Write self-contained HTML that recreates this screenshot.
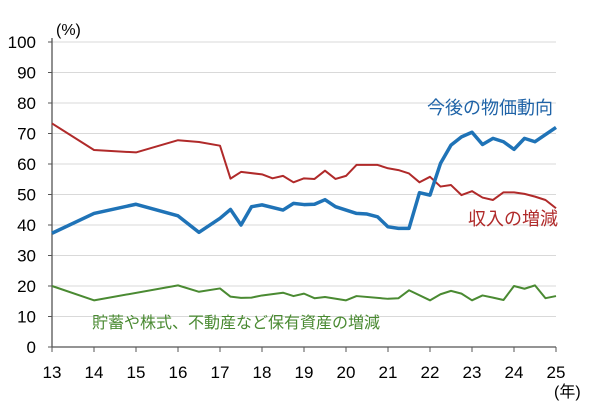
<!DOCTYPE html>
<html><head><meta charset="utf-8">
<style>
html,body{margin:0;padding:0;background:#fff;}
svg{display:block;font-family:"Liberation Sans","Noto Sans CJK JP",sans-serif;}
</style></head>
<body>
<svg id="chart" width="600" height="413" viewBox="0 0 600 413"></svg>
<script>
const yTicks=[0,10,20,30,40,50,60,70,80,90,100];
const xTicks=[13,14,15,16,17,18,19,20,21,22,23,24,25];
const priceX=[13,14,15,16,16.5,17,17.25,17.5,17.75,18,18.5,18.75,19,19.25,19.5,19.75,20.25,20.5,20.75,21,21.25,21.5,21.75,22,22.25,22.5,22.75,23,23.25,23.5,23.75,24,24.25,24.5,25];
const priceY=[37.3,43.8,46.8,43.0,37.6,42.2,45.1,40,46,46.6,44.9,47.1,46.7,46.8,48.3,46,43.8,43.6,42.7,39.4,38.9,38.9,50.6,49.8,60.2,66.2,68.9,70.4,66.4,68.4,67.3,64.8,68.4,67.3,72];
const incomeX=[13,14,15,16,16.5,17,17.25,17.5,18,18.25,18.5,18.75,19,19.25,19.5,19.75,20,20.25,20.5,20.75,21,21.25,21.5,21.75,22,22.25,22.5,22.75,23,23.25,23.5,23.75,24,24.25,24.5,24.75,25];
const incomeY=[73.3,64.6,63.8,67.8,67.2,66,55.2,57.4,56.6,55.3,56.1,54,55.3,55.1,57.8,55.1,56.1,59.7,59.7,59.7,58.6,58,56.9,54,55.8,52.6,53.1,49.8,51.1,49,48.2,50.7,50.7,50.2,49.3,48.2,45.5];
const assetX=[13,14,16,16.5,17,17.25,17.5,17.75,18,18.5,18.75,19,19.25,19.5,20,20.25,21,21.25,21.5,22,22.25,22.5,22.75,23,23.25,23.5,23.75,24,24.25,24.5,24.75,25];
const assetY=[20,15.3,20.2,18.1,19.2,16.5,16.1,16.2,16.9,17.8,16.7,17.5,16,16.4,15.3,16.7,15.8,16,18.6,15.3,17.3,18.4,17.5,15.3,16.9,16.2,15.4,20,19.1,20.2,16,16.7];

const svg=document.getElementById('chart');
const NS='http://www.w3.org/2000/svg';
const X0=52,X1=556,Y0=347,Y1=42;
const sx=v=>X0+(v-13)*(X1-X0)/12;
const sy=v=>Y0-v*(Y0-Y1)/100;
function mk(t,a,p){const e=document.createElementNS(NS,t);for(const k in a)e.setAttribute(k,a[k]);(p||svg).appendChild(e);return e;}

yTicks.forEach(v=>{
  if(v>0){const g=mk('line',{x1:X0,x2:X1,y1:sy(v),y2:sy(v),stroke:'#d9d9d9','stroke-width':1});
  
  }
  const tk=mk('line',{x1:X0-4,x2:X0,y1:sy(v),y2:sy(v),stroke:'#555','stroke-width':1});
  
  
  const t=mk('text',{x:36,y:sy(v)+6,'text-anchor':'end','font-size':17,fill:'#000'});
  t.textContent=v;
  
  
});
const ya=mk('line',{x1:X0,x2:X0,y1:Y1-4,y2:Y0,stroke:'#555','stroke-width':1.3});


const xa=mk('line',{x1:X0,x2:X1,y1:Y0,y2:Y0,stroke:'#555','stroke-width':1.3});


xTicks.forEach(v=>{
  const tk=mk('line',{x1:sx(v),x2:sx(v),y1:Y0,y2:Y0+5,stroke:'#555','stroke-width':1});
  
  
  const t=mk('text',{x:sx(v),y:378,'text-anchor':'middle','font-size':17,fill:'#000'});
  t.textContent=v;
  
  
});
function series(xs,ys,col,w,name){
  const p=mk('polyline',{points:xs.map((x,i)=>sx(x)+','+sy(ys[i])).join(' '),fill:'none',stroke:col,'stroke-width':w,'stroke-linejoin':'round'});
  
  
}
series(assetX,assetY,'#4a8a32',2,'asset-line');
series(incomeX,incomeY,'#b02a2a',2,'income-line');
series(priceX,priceY,'#1f73b7',3.5,'price-line');
function label(txt,x,y,col,name,anchor,size){
  const t=mk('text',{x:x,y:y,'text-anchor':anchor||'start','font-size':size||16,fill:col});
  t.textContent=txt;
  
  
}
label('(%)',56,35,'#000','y-axis-unit','start',16);
label('(年)',554,397,'#000','x-axis-unit','start',16);
label('今後の物価動向',553,114,'#1f63a7','price-label','end',18);
label('収入の増減',558,225,'#b02a2a','income-label','end',18);
label('貯蓄や株式、不動産など保有資産の増減',92,328,'#4a8a32','asset-label','start',16);
</script>
</body></html>
